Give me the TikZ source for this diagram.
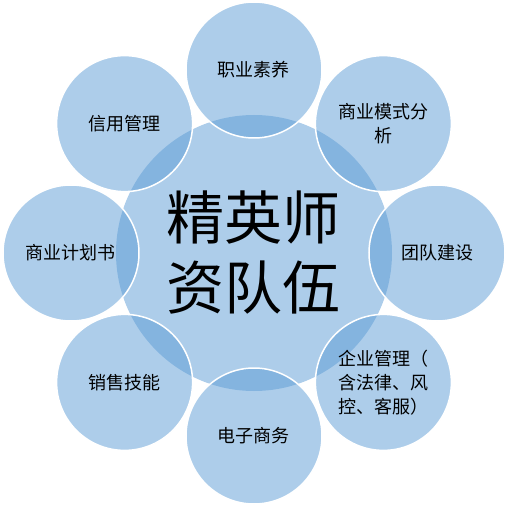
\documentclass[tikz,border=0pt]{standalone}
\usepackage{fontspec}
\setmainfont{Noto Sans CJK SC}
\usetikzlibrary{shapes.geometric}
\definecolor{petalblue}{HTML}{5B9BD5}
\tikzstyle{core} = [circle, minimum size=276pt, inner sep=0pt, fill=petalblue, fill opacity=0.5, text opacity=1, align=center, font=\fontsize{58}{70}\selectfont]
\tikzstyle{petal} = [circle, minimum size=136pt, inner sep=0pt, fill=petalblue, fill opacity=0.5, text opacity=1, draw=white, line width=1.5pt, align=center, font=\fontsize{18}{24}\selectfont]

\begin{document}
\begin{tikzpicture}[x=1pt, y=1pt]
			\useasboundingbox (-254,-253) rectangle (255,253);
			\node(team)[core] at (0,0) {精英师\\资队伍};
			% petals, clockwise from the top
			\node(quality)[petal] at (90:183) {职业素养};
			\node(model)[petal] at (45:183) {商业模式分\\析};
			\node(build)[petal] at (0:183) {团队建设};
			\node(manage)[petal] at (-45:183) {企业管理（\\含法律、风\\控、客服）};
			\node(ecom)[petal] at (-90:183) {电子商务};
			\node(sales)[petal] at (-135:183) {销售技能};
			\node(plan)[petal] at (180:183) {商业计划书};
			\node(credit)[petal] at (135:183) {信用管理};
		\end{tikzpicture}
\end{document}
